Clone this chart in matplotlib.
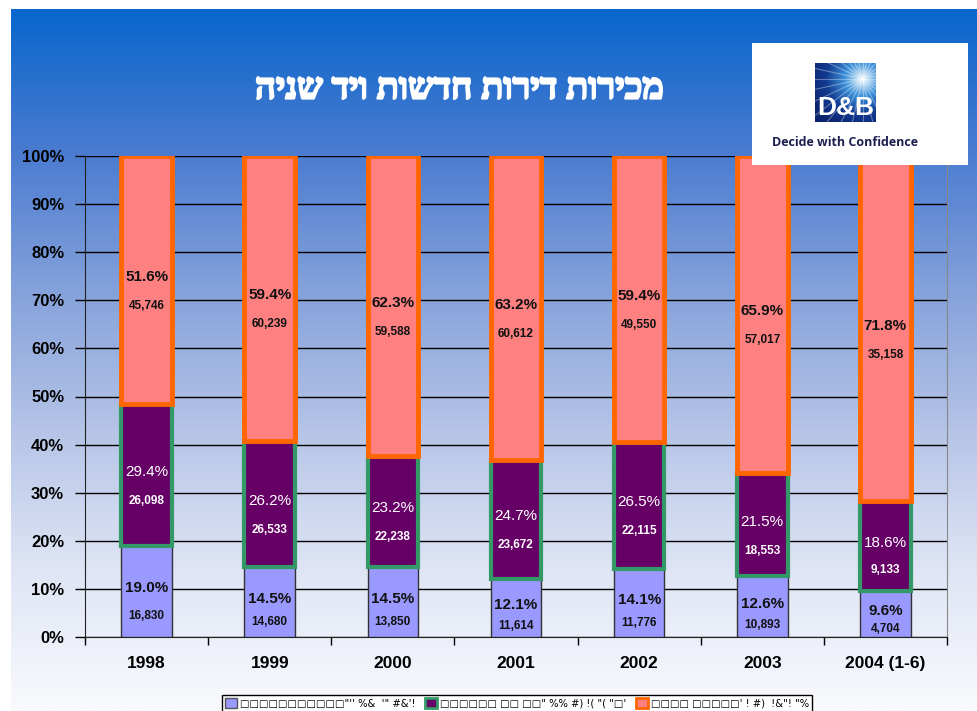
import numpy as np
import matplotlib
matplotlib.use('Agg')
import matplotlib.pyplot as plt
import matplotlib.patheffects as pe
from matplotlib.colors import LinearSegmentedColormap
from matplotlib.patches import Rectangle, Patch

# ================= data =================
years = ['1998', '1999', '2000', '2001', '2002', '2003', '2004 (1-6)']
pct_low = [19.0, 14.5, 14.5, 12.1, 14.1, 12.6, 9.6]
pct_mid = [29.4, 26.2, 23.2, 24.7, 26.5, 21.5, 18.6]
pct_top = [51.6, 59.4, 62.3, 63.2, 59.4, 65.9, 71.8]
cnt_low = [16830, 14680, 13850, 11614, 11776, 10893, 4704]
cnt_mid = [26098, 26533, 22238, 23672, 22115, 18553, 9133]
cnt_top = [45746, 60239, 59588, 60612, 49550, 57017, 35158]
yticks = list(range(0, 101, 10))
legend_labels = ["□□□□□□□□□□□\"'' %&  '\" #&'!",
                 "□□□□□□ □□ □□\" %% #) !( \"( \"□'",
                 "□□□□ □□□□□' ! #)  !&\"! \"%"]
title = 'מכירות דירות חדשות ויד שניה'
# ========================================

W, H = 977, 711
fig = plt.figure(figsize=(W / 100, H / 100), dpi=100)
fig.patch.set_facecolor('white')

# background gradient
bg = fig.add_axes([11 / W, 0, (W - 11) / W, (H - 9) / H])
bg.set_zorder(-10)
cmap = LinearSegmentedColormap.from_list('bg', [
    (0.0, '#0866cc'), (0.2, '#4a7bd0'), (0.42, '#8aa5dc'),
    (0.6, '#b5c4e7'), (0.8, '#dfe5f5'), (1.0, '#f9fafd')])
bg.imshow(np.linspace(0, 1, 256).reshape(-1, 1), aspect='auto', cmap=cmap,
          extent=[0, 1, 0, 1], origin='upper')
bg.axis('off')

ax = fig.add_axes([85 / W, (H - 637) / H, (947 - 85) / W, (637 - 156) / H])
ax.set_facecolor('none')
x = np.arange(len(years))
bw = 0.41

low = np.array(pct_low)
mid = np.array(pct_mid)
top = np.array(pct_top)

ax.bar(x, low, bw, color='#9999ff', edgecolor='#333333', linewidth=1, zorder=3)
ax.bar(x, mid, bw, bottom=low, color='#660066', edgecolor='#339966', linewidth=3, zorder=3)
ax.bar(x, top, bw, bottom=low + mid, color='#ff8080', edgecolor='#ff6600', linewidth=3.5, zorder=3)

ax.spines['top'].set_visible(False)
ax.spines['right'].set_color('#888888')
ax.spines['left'].set_color('#222222')
ax.spines['bottom'].set_color('#222222')
ax.set_ylim(0, 100)
ax.set_xlim(-0.5, len(years) - 0.5)
fam = ['Liberation Sans', 'DejaVu Sans']
ax.set_yticks(yticks)
ax.set_yticklabels([f'{v}%' for v in yticks], fontsize=12, fontweight='bold', family=fam)
ax.yaxis.grid(True, color='black', linewidth=1, zorder=0)
ax.set_axisbelow(True)
ax.tick_params(axis='y', length=7, width=1, pad=8)
ax.set_xticks(x)
ax.set_xticklabels(years, fontsize=12.5, fontweight='bold', family=fam)
ax.tick_params(axis='x', length=0, pad=14)
ax.set_xticks(np.arange(len(years) + 1) - 0.5, minor=True)
ax.tick_params(axis='x', which='minor', length=6, width=1, direction='out')

px_per_pct = (637 - 156) / 100.0


def seg_labels(bottoms, heights, counts, color, pct_bold):
    for i in range(len(heights)):
        c = bottoms[i] + heights[i] / 2
        hp = heights[i] * px_per_pct
        off = min(26, 0.2 * hp + 6)
        ax.annotate(f'{heights[i]:.1f}%', (x[i], c), xytext=(0, 3),
                    textcoords='offset pixels', ha='center', va='center',
                    fontsize=11, fontweight='bold' if pct_bold else 'normal',
                    color=color, family=fam, zorder=5)
        ax.annotate(f'{counts[i]:,}', (x[i], c), xytext=(0, -off),
                    textcoords='offset pixels', ha='center', va='center',
                    fontsize=8.5, fontweight='bold', color=color, family=fam, zorder=5)


seg_labels(np.zeros(len(low)), low, cnt_low, '#111111', True)
seg_labels(low, mid, cnt_mid, 'white', False)
seg_labels(low + mid, top, cnt_top, '#111111', True)

# title (reversed for right-to-left display)
fig.text(460 / W, 1 - 90 / H, title[::-1], ha='center', va='center', color='white',
         fontsize=26, fontweight='bold', family=['Liberation Serif', 'DejaVu Sans'],
         path_effects=[pe.withStroke(linewidth=1.6, foreground='white')])

# logo
fig.patches.append(Rectangle((752 / W, 1 - 165 / H), (968 - 752) / W, (165 - 43) / H,
                             transform=fig.transFigure, facecolor='white',
                             edgecolor='none', zorder=5))
lg = fig.add_axes([815 / W, 1 - 122 / H, 61 / W, 59 / H])
lg.set_zorder(6)
yy, xx = np.mgrid[0:1:100j, 0:1:100j]
r = np.sqrt((xx - 0.78) ** 2 + (yy - 0.27) ** 2)
logo_cmap = LinearSegmentedColormap.from_list('logo', ['#e8f8ff', '#3a8ed8', '#123a90', '#0b2470'])
lg.imshow(r, cmap=logo_cmap, extent=[0, 1, 1, 0], aspect='auto', vmin=0, vmax=0.9)
for ang in np.linspace(0, 2 * np.pi, 28, endpoint=False):
    lg.plot([0.78, 0.78 + 1.5 * np.cos(ang)], [0.27, 0.27 + 1.5 * np.sin(ang)],
            color='white', alpha=0.35, linewidth=0.8)
lg.set_xlim(0, 1)
lg.set_ylim(1, 0)
lg.text(0.5, 0.76, 'D&B', ha='center', va='center', color='white', fontsize=19,
        fontweight='bold', family=fam)
lg.axis('off')
fig.text(845 / W, 1 - 142 / H, 'Decide with Confidence', ha='center', va='center',
         color='#1c1f4f', fontsize=9, fontweight='bold', family=['Open Sans', 'DejaVu Sans'],
         zorder=7)

# legend
handles = [Patch(facecolor='#9999ff', edgecolor='#555555'),
           Patch(facecolor='#660066', edgecolor='#339966', linewidth=2),
           Patch(facecolor='#ff8080', edgecolor='#ff6600', linewidth=2)]
leg = fig.legend(handles, legend_labels, loc='upper center', ncol=3,
                 bbox_to_anchor=(517 / W, 1 - 690 / H), frameon=True, fancybox=False,
                 edgecolor='black', framealpha=1, handlelength=1.2,
                 handleheight=1.2, handletextpad=0.3, columnspacing=1.0, borderpad=0.3,
                 prop={'family': ['DejaVu Sans'], 'size': 7.2})
leg.get_frame().set_linewidth(1)

fig.savefig('out.png', dpi=100)
